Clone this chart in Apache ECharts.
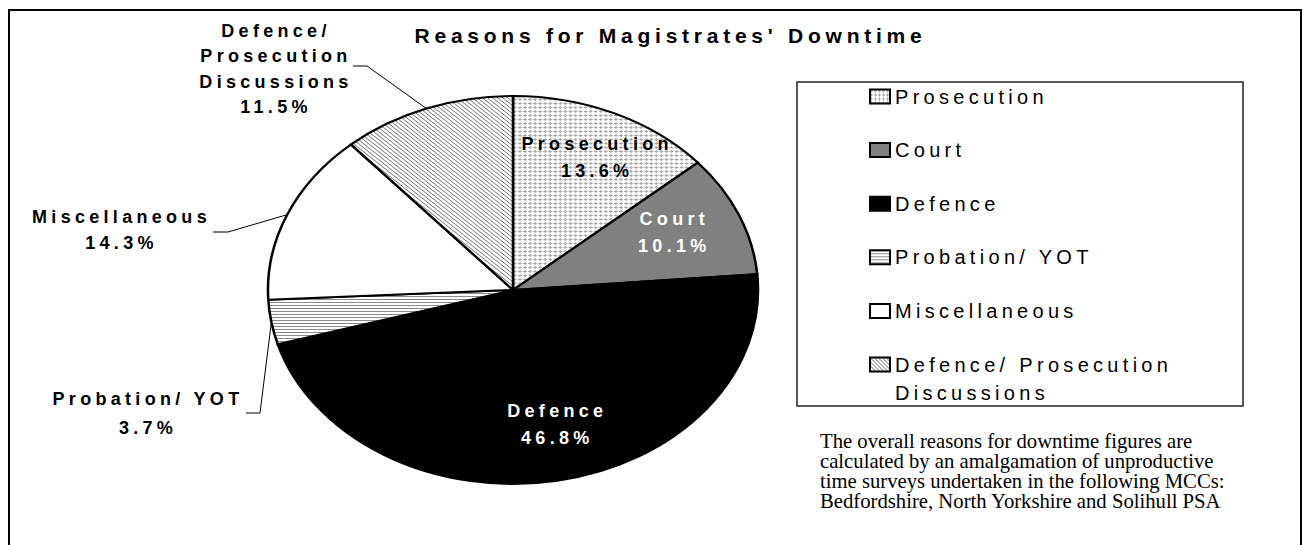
<!DOCTYPE html>
<html>
<head>
<meta charset="UTF-8">
<title>Reasons for Magistrates' Downtime</title>
<script src="https://cdn.jsdelivr.net/npm/echarts@6/dist/echarts.min.js"></script>
<style>
  html, body { margin: 0; padding: 0; background: #fff; }
  #main { width: 1309px; height: 545px; }
  /* the original export has widely spaced sans text; the serif note is normal */
  #main text { letter-spacing: 4.3px; }
  #main text[style*="21px"] { letter-spacing: 4.75px; }
  #main text[style*="Serif"] { letter-spacing: 0; }
</style>
</head>
<body>
<div id="main"></div>
<script>
// data
var categories = ['Prosecution', 'Court', 'Defence', 'Probation/ YOT', 'Miscellaneous', 'Defence/ Prosecution Discussions'];
var shares = [13.6, 10.1, 46.8, 3.7, 14.3, 11.5];
var labelNames = ['Prosecution', 'Court', 'Defence', 'Probation/ YOT', 'Miscellaneous', 'Defence/\nProsecution\nDiscussions'];
var legendNames = ['Prosecution', 'Court', 'Defence', 'Probation/ YOT', 'Miscellaneous', 'Defence/ Prosecution\nDiscussions'];
var noteLines = [
    'The overall reasons for downtime figures are',
    'calculated by an amalgamation of unproductive',
    'time surveys undertaken in the following MCCs:',
    'Bedfordshire, North Yorkshire and Solihull PSA'
];

// layout of the (stretched) pie
var CX = 513, CY = 290, RX = 245, RY = 194;
var total = shares.reduce(function (a, b) { return a + b; }, 0);
var starts = [];
shares.reduce(function (acc, v, i) { starts[i] = acc; return acc + v; }, 0);

// labels inside slices sit at 3/4 radius, small nudges like the excel output
var insideNudge = { 0: [8, 0], 1: [-8, -1], 2: [11, -9] };
// outside labels: text centre and leader elbow/end
var outsideLabels = {
    3: { text: [148, 413.5], line: [[260, 413], [246, 413]], lh: 29 },
    4: { text: [121.5, 230], line: [[228, 232], [213, 232]], lh: 26 },
    5: { text: [276, 69], line: [[367, 66], [353, 66]], lh: 25.3 }
};
var labelColors = ['#000', '#fff', '#fff', '#000', '#000', '#000'];

function makePattern(w, h, pixels, color) {
    var c = document.createElement('canvas');
    c.width = w; c.height = h;
    var ctx = c.getContext('2d');
    ctx.fillStyle = '#fff';
    ctx.fillRect(0, 0, w, h);
    ctx.fillStyle = color;
    pixels.forEach(function (p) { ctx.fillRect(p[0], p[1], 1, 1); });
    return { image: c, repeat: 'repeat' };
}

var fills = [
    makePattern(4, 4, [[1, 0], [0, 1], [1, 1], [2, 1], [1, 2]], '#a8a8a8'),
    '#808080',
    '#000000',
    makePattern(4, 3, [[0, 0], [1, 0], [2, 0], [3, 0]], '#8a8a8a'),
    '#ffffff',
    makePattern(4, 4, [[0, 0], [1, 1], [2, 2], [3, 3]], '#6a6a6a')
];

function renderSlice(params, api) {
    var i = params.seriesIndex;
    var start = api.value(0), v = api.value(1);
    var a0 = -Math.PI / 2 + 2 * Math.PI * start / total;
    var a1 = -Math.PI / 2 + 2 * Math.PI * (start + v) / total;
    var mid = 2 * Math.PI * (start + v / 2) / total; // from 12 o'clock, clockwise
    var sx = Math.sin(mid), sy = -Math.cos(mid);

    var children = [{
        type: 'sector',
        x: CX, y: CY, scaleX: RX / RY, scaleY: 1,
        shape: { cx: 0, cy: 0, r0: 0, r: RY, startAngle: a0, endAngle: a1, clockwise: true },
        style: { fill: fills[i], stroke: '#000', lineWidth: 2, strokeNoScale: true }
    }];

    var text = labelNames[i] + '\n' + v.toFixed(1) + '%';
    var lx, ly, lh = 27;
    if (outsideLabels[i]) {
        var o = outsideLabels[i];
        lx = o.text[0]; ly = o.text[1]; lh = o.lh;
        var edge = [CX + RX * sx, CY + RY * sy];
        children.push({
            type: 'polyline',
            shape: { points: [edge, o.line[0], o.line[1]] },
            style: { fill: 'none', stroke: '#000', lineWidth: 1 },
            z2: 5
        });
    } else {
        var n = insideNudge[i] || [0, 0];
        lx = CX + RX * 0.75 * sx + n[0];
        ly = CY + RY * 0.75 * sy + n[1];
    }
    children.push({
        type: 'text',
        x: lx, y: ly, z2: 10,
        style: {
            text: text, fill: labelColors[i],
            fontFamily: 'Liberation Sans', fontWeight: 'bold', fontSize: 18,
            lineHeight: lh, align: 'center', verticalAlign: 'middle'
        }
    });
    return { type: 'group', children: children };
}

var series = categories.map(function (name, i) {
    return {
        type: 'custom',
        name: name,
        coordinateSystem: 'none',
        itemStyle: { color: fills[i], borderColor: '#000', borderWidth: 2 },
        data: [[starts[i], shares[i]]],
        renderItem: renderSlice
    };
});

var option = {
    animation: false,
    backgroundColor: '#fff',
    legend: {
        orient: 'vertical',
        left: 869, top: 54.5, padding: 0,
        icon: 'rect', itemWidth: 20, itemHeight: 14, itemGap: -30.4,
        selectedMode: false,
        itemStyle: { borderColor: '#000', borderWidth: 2 },
        textStyle: { fontFamily: 'Liberation Sans', fontSize: 20, color: '#000', lineHeight: 28 },
        data: categories,
        // three text rows per item so the first real row lines up with the icon
        formatter: function (name) {
            return '\n' + legendNames[categories.indexOf(name)] + (name === categories[5] ? '' : '\n');
        }
    },
    graphic: [
        { type: 'rect', shape: { x: 9, y: 10, width: 1292, height: 560 }, style: { fill: 'none', stroke: '#000', lineWidth: 2 } },
        { type: 'rect', shape: { x: 797, y: 82, width: 446, height: 324 }, style: { fill: 'none', stroke: '#222', lineWidth: 1.5 } },
        {
            type: 'text', x: 670.5, y: 35,
            style: {
                text: "Reasons for Magistrates' Downtime", fill: '#000',
                fontFamily: 'Liberation Sans', fontWeight: 'bold', fontSize: 21,
                align: 'center', verticalAlign: 'middle'
            }
        },
        {
            type: 'text', x: 820, y: 431,
            style: {
                text: noteLines.join('\n'), fill: '#000',
                fontFamily: 'Liberation Serif', fontSize: 20.7, lineHeight: 20,
                align: 'left', verticalAlign: 'top'
            }
        }
    ],
    series: series
};

var myChart = echarts.init(document.getElementById('main'), null, { renderer: 'svg' });
myChart.setOption(option);
</script>
</body>
</html>
